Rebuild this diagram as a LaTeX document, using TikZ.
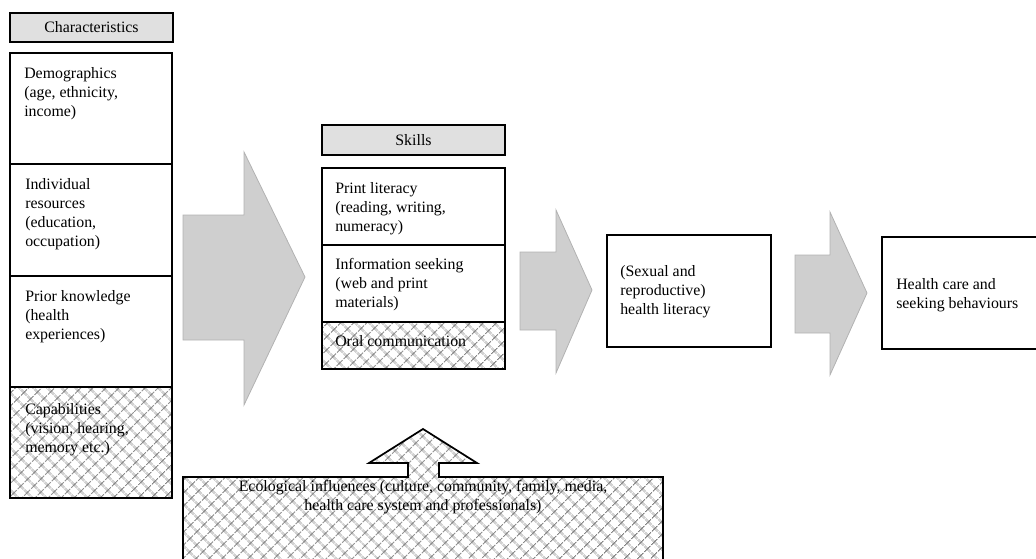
\documentclass[tikz,border=0pt]{standalone}
\usepackage{fontspec}
\setmainfont{Liberation Serif}
\usetikzlibrary{patterns.meta}

\tikzset{
    box/.style={draw=black, line width=1.3pt},
    headbox/.style={box, fill=gray!24},
    hatchbox/.style={box, pattern={Hatch[angle=45, distance=6.9pt, line width=0.8pt]}, pattern color=black!50},
    bigarrow/.style={draw=gray!60, fill=gray!38, line width=0.6pt},
    txt/.style={anchor=north west, align=left, inner sep=0pt, font=\fontsize{11.9}{14.25}\selectfont},
    ctxt/.style={txt, anchor=center, align=center}
}

\begin{document}
\begin{tikzpicture}[x=0.75pt, y=-0.75pt]
    \useasboundingbox (0,0) rectangle (1036,558);

    % Characteristics column
    \draw[headbox] (10,13) rectangle (173,42);
    \node[ctxt] (charhead) at (91.5,27.5) {Characteristics};
    \draw[box] (10,53) rectangle (172,387);
    \draw[box] (10,164) -- (172,164);
    \draw[box] (10,276) -- (172,276);
    \draw[hatchbox] (10,387) rectangle (172,498);
    \node[txt] (demo) at (24,67) {Demographics\\(age, ethnicity,\\income)};
    \node[txt] (resources) at (25,178) {Individual\\resources\\(education,\\occupation)};
    \node[txt] (prior) at (25,290) {Prior knowledge\\(health\\experiences)};
    \node[txt] (capab) at (25,403) {Capabilities\\(vision, hearing,\\memory etc.)};

    % Skills column
    \draw[headbox] (322,125) rectangle (505,155);
    \node[ctxt] (skillhead) at (413.5,140) {Skills};
    \draw[box] (322,168) rectangle (505,322);
    \draw[box] (322,245) -- (505,245);
    \draw[hatchbox] (322,322) rectangle (505,369);
    \node[txt] (print) at (335,182) {Print literacy\\(reading, writing,\\numeracy)};
    \node[txt] (seeking) at (335,258) {Information seeking\\(web and print\\materials)};
    \node[txt] (oral) at (335,335) {Oral communication};

    % Outcome boxes
    \draw[box] (607,235) rectangle (771,347);
    \node[txt] (literacy) at (620,265) {(Sexual and\\reproductive)\\health literacy};
    \draw[box] (882,237) rectangle (1040,349);
    \node[txt] (behaviour) at (896,278) {Health care and\\seeking behaviours};

    % Block arrows
    \draw[bigarrow] (183,215) -- (244,215) -- (244,152) -- (305,277) -- (244,405) -- (244,340) -- (183,340) -- cycle;
    \draw[bigarrow] (520,252) -- (556,252) -- (556,210) -- (592,290) -- (556,373) -- (556,330) -- (520,330) -- cycle;
    \draw[bigarrow] (795,255) -- (830,255) -- (830,212) -- (867,293) -- (830,375) -- (830,333) -- (795,333) -- cycle;

    % Ecological influences
    \draw[hatchbox] (183,565) -- (183,477) -- (408,477) -- (408,463) -- (369,463) -- (423,429)
        -- (477,463) -- (439,463) -- (439,477) -- (663,477) -- (663,565) -- cycle;
    \node[ctxt] (ecology) at (423,497) {Ecological influences (culture, community, family, media,\\health care system and professionals)};
\end{tikzpicture}
\end{document}
